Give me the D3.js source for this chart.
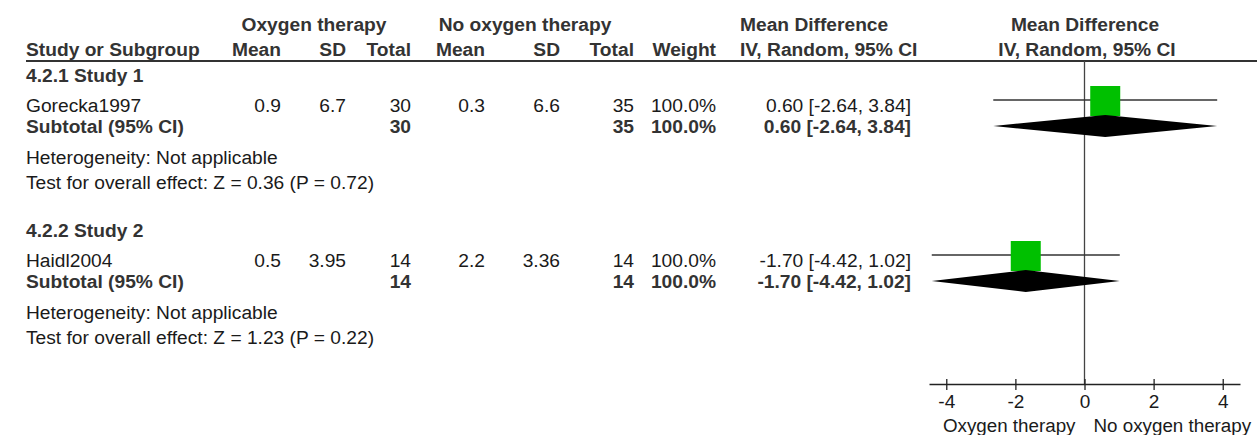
<!DOCTYPE html>
<html>
<head>
<meta charset="utf-8">
<script src="https://cdn.jsdelivr.net/npm/d3@7"></script>
<style>
  html, body { margin: 0; padding: 0; background: #fff; }
  svg { display: block; font-family: "Liberation Sans", Arial, sans-serif; }
  text { fill: #1a1a1a; }
  .b { font-weight: bold; fill: #333; }
</style>
</head>
<body>
<div id="container"></div>
<script>
"use strict";

// subgroup / study data
const groups = ["4.2.1 Study 1", "4.2.2 Study 2"];
const studies = ["Gorecka1997", "Haidl2004"];
const oxyMean = ["0.9", "0.5"];
const oxySD = ["6.7", "3.95"];
const oxyTotal = [30, 14];
const noMean = ["0.3", "2.2"];
const noSD = ["6.6", "3.36"];
const noTotal = [35, 14];
const weights = [100, 100];
const md = [0.60, -1.70];
const mdLow = [-2.64, -4.42];
const mdHigh = [3.84, 1.02];
const subMd = [0.60, -1.70];
const subLow = [-2.64, -4.42];
const subHigh = [3.84, 1.02];
const zStat = ["0.36", "1.23"];
const pVal = ["0.72", "0.22"];
const ticks = [-4, -2, 0, 2, 4];
const favours = ["Oxygen therapy", "No oxygen therapy"];

const width = 1257;
const height = 435;
const fs = 19.2;

const svg = d3.select("#container")
  .append("svg")
  .attr("width", width)
  .attr("height", height)
  .style("font-size", fs + "px");

const x = d3.scaleLinear().domain([-4.5, 4.5]).range([929, 1240]);
const boxSize = d3.scaleSqrt().domain([0, 100]).range([0, 30]);

// column right edges
const col = { study: 26, oMean: 281, oSD: 346, oTot: 411, nMean: 485, nSD: 560, nTot: 634, weight: 716, ci: 911 };

const txt = (xx, yy, s, anchor, bold) => svg.append("text")
  .attr("x", xx).attr("y", yy)
  .attr("text-anchor", anchor || "start")
  .attr("class", bold ? "b" : null)
  .text(s);

// header
txt(314, 31, "Oxygen therapy", "middle", true);
txt(525, 31, "No oxygen therapy", "middle", true);
txt(740, 31, "Mean Difference", "start", true);
txt(1085, 31, "Mean Difference", "middle", true);
txt(col.study, 56, "Study or Subgroup", "start", true);
txt(col.oMean, 56, "Mean", "end", true);
txt(col.oSD, 56, "SD", "end", true);
txt(col.oTot, 56, "Total", "end", true);
txt(col.nMean, 56, "Mean", "end", true);
txt(col.nSD, 56, "SD", "end", true);
txt(col.nTot, 56, "Total", "end", true);
txt(col.weight, 56, "Weight", "end", true);
txt(740, 56, "IV, Random, 95% CI", "start", true);
txt(1087, 56, "IV, Random, 95% CI", "middle", true);

svg.append("line")
  .attr("x1", 26).attr("x2", width)
  .attr("y1", 61).attr("y2", 61)
  .attr("stroke", "#333").attr("stroke-width", 2);

// zero line
svg.append("line")
  .attr("x1", x(0)).attr("x2", x(0))
  .attr("y1", 61).attr("y2", 384)
  .attr("stroke", "#444").attr("stroke-width", 1.3);

const fmt = (v) => d3.format(".2f")(v).replace("\u2212", "-");
const ciText = (m, l, h) => `${fmt(m)} [${fmt(l)}, ${fmt(h)}]`;

const groupOffset = 155;

groups.forEach((g, i) => {
  const oy = i * groupOffset;
  const yHead = 82 + oy, yStudy = 112 + oy, ySub = 133 + oy, yHet = 164 + oy, yTest = 189 + oy;

  txt(col.study, yHead, g, "start", true);

  txt(col.study, yStudy, studies[i]);
  txt(col.oMean, yStudy, oxyMean[i], "end");
  txt(col.oSD, yStudy, oxySD[i], "end");
  txt(col.oTot, yStudy, oxyTotal[i], "end");
  txt(col.nMean, yStudy, noMean[i], "end");
  txt(col.nSD, yStudy, noSD[i], "end");
  txt(col.nTot, yStudy, noTotal[i], "end");
  txt(col.weight, yStudy, d3.format(".1f")(weights[i]) + "%", "end");
  txt(col.ci, yStudy, ciText(md[i], mdLow[i], mdHigh[i]), "end");

  txt(col.study, ySub, "Subtotal (95% CI)", "start", true);
  txt(col.oTot, ySub, oxyTotal[i], "end", true);
  txt(col.nTot, ySub, noTotal[i], "end", true);
  txt(col.weight, ySub, d3.format(".1f")(weights[i]) + "%", "end", true);
  txt(col.ci, ySub, ciText(subMd[i], subLow[i], subHigh[i]), "end", true);

  txt(col.study, yHet, "Heterogeneity: Not applicable");
  txt(col.study, yTest, `Test for overall effect: Z = ${zStat[i]} (P = ${pVal[i]})`);

  // CI line and box
  const cy = yStudy - 12;
  svg.append("line")
    .attr("x1", x(mdLow[i])).attr("x2", x(mdHigh[i]))
    .attr("y1", cy).attr("y2", cy)
    .attr("stroke", "#333").attr("stroke-width", 1.3);
  const s = boxSize(weights[i]);
  svg.append("rect")
    .attr("x", x(md[i]) - s / 2).attr("y", cy - s / 2 + 1)
    .attr("width", s).attr("height", s)
    .attr("fill", "#00c000");

  // diamond
  const dy = ySub - 7;
  svg.append("path")
    .attr("d", `M${x(subLow[i])},${dy}L${x(subMd[i])},${dy - 11}L${x(subHigh[i])},${dy}L${x(subMd[i])},${dy + 11}Z`)
    .attr("fill", "#000");
});

// axis
const axis = svg.append("g")
  .attr("transform", "translate(0,384)")
  .call(d3.axisBottom(x).tickValues(ticks).tickSize(0).tickFormat((d) => String(d)));
axis.select(".domain").attr("stroke", "#222").attr("stroke-width", 1.3);
axis.selectAll(".tick line")
  .attr("y1", -5).attr("y2", 6)
  .attr("stroke", "#222").attr("stroke-width", 1.3);
axis.selectAll(".tick text")
  .attr("y", 24).attr("dy", null)
  .style("font-size", "19px")
  .style("font-family", "'Liberation Sans', Arial, sans-serif")
  .attr("fill", "#1a1a1a");

txt(x(0) - 9, 432, favours[0], "end").style("font-size", "18.8px");
txt(x(0) + 9, 432, favours[1], "start").style("font-size", "18.8px");
</script>
</body>
</html>
